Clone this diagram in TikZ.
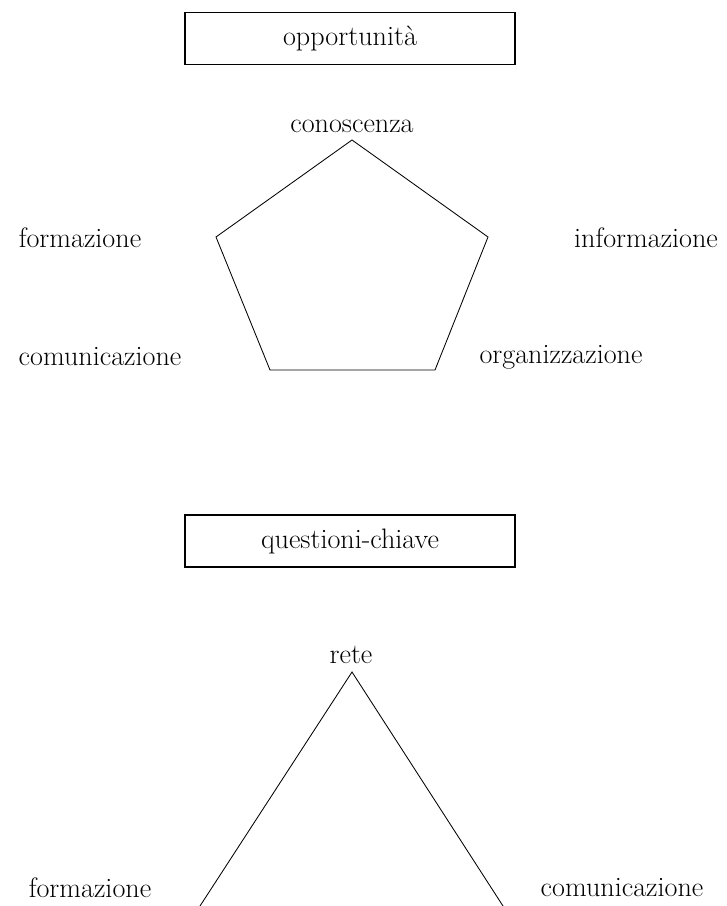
\documentclass[tikz,border=0pt]{standalone}
\usepackage{tikz}
\usetikzlibrary{positioning,calc}

\begin{document}
\begin{tikzpicture}[
    x=0.025cm, y=-0.025cm,
    titlebox/.style={draw, line width=0.8pt, minimum width=8.25cm, minimum height=1.3cm,
                     font=\fontsize{20}{24}\selectfont, align=center},
    lbl/.style={font=\fontsize{20}{24}\selectfont, inner sep=0pt},
    edge/.style={line width=0.6pt, line join=miter},
  ]
  \useasboundingbox (0,0) rectangle (726,906);
  \clip (0,0) rectangle (726,906);

  % upper part
  \node[titlebox] (opp) at (350,38.5) {opportunit\`a};

  \coordinate (p1) at (352,140);
  \coordinate (p2) at (488,237);
  \coordinate (p3) at (435,370);
  \coordinate (p4) at (270,370);
  \coordinate (p5) at (216,237);
  \draw[edge] (p1) -- (p2) -- (p3) -- (p4) -- (p5) -- cycle;

  \node[lbl] (con) at (352,126) {conoscenza};
  \node[lbl] (inf) at (646,238) {informazione};
  \node[lbl] (org) at (561,357) {organizzazione};
  \node[lbl] (com) at (100,357) {comunicazione};
  \node[lbl] (for) at (80,238) {formazione};

  % lower part
  \node[titlebox] (que) at (350,541) {questioni-chiave};

  \coordinate (t1) at (352,672);
  \coordinate (t2) at (503,906);
  \coordinate (t3) at (200,906);
  \draw[edge] (t3) -- (t1) -- (t2);

  \node[lbl] (ret) at (351,655) {rete};
  \node[lbl] (for2) at (90,888) {formazione};
  \node[lbl] (com2) at (622,888) {comunicazione};
\end{tikzpicture}
\end{document}
